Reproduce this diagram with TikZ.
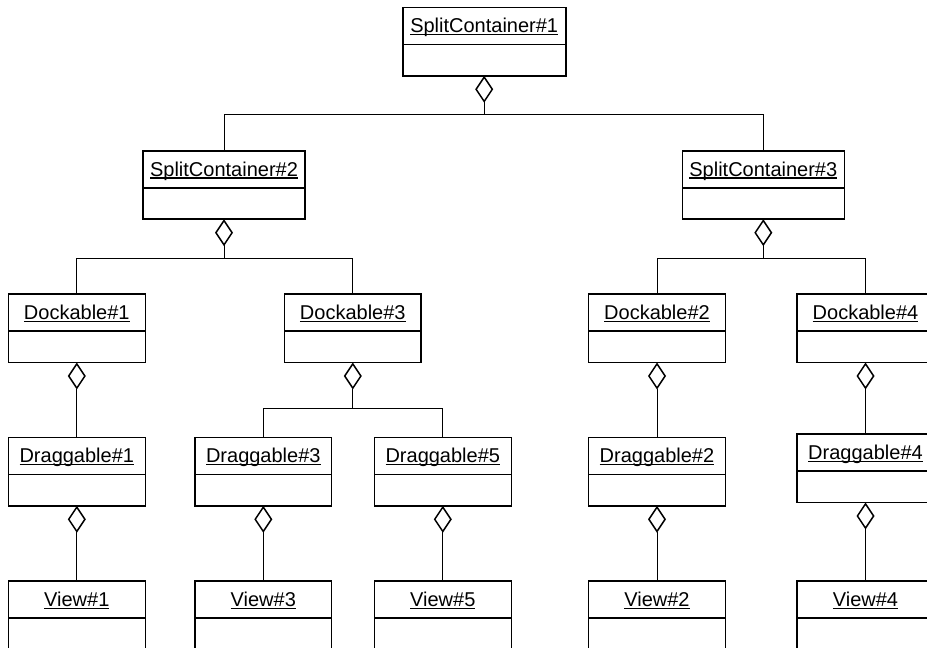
\documentclass[tikz,border=0pt]{standalone}
\usepackage{fontspec}
\setmainfont{Liberation Sans}
\usetikzlibrary{arrows.meta}

% underlined object name, rule drawn just below the baseline
\newcommand{\objname}[1]{\setbox0\hbox{#1}\rlap{\rule[-2.3pt]{\wd0}{1.2pt}}\box0}

% object box: name, centre x, top y, width, label
\newcommand{\objbox}[5]{%
  \node[objframe, minimum width=#4pt, anchor=north] (#1) at (#2,#3) {};
  \draw[objline] ([yshift=-37pt]#1.north west) -- ([yshift=-37pt]#1.north east);
  \node[objlabel] (#1-t) at ([yshift=-25.5pt]#1.north) {\objname{#5}};
}

\tikzset{
  objframe/.style={draw=black, line width=1.6pt, fill=white, minimum height=68.5pt,
                   inner sep=0pt, outer sep=0pt},
  objline/.style={draw=black, line width=1.6pt},
  objlabel/.style={anchor=base, inner sep=0pt, font=\fontsize{20pt}{24pt}\selectfont},
  conn/.style={draw=black, line width=0.9pt},
  agg/.style={conn, arrows={Diamond[open, length=27pt, width=18pt, line width=1.5pt]-}},
}

\begin{document}
\begin{tikzpicture}[x=1pt, y=-1pt]
\useasboundingbox (0,0) rectangle (927,648);
\clip (0,0) rectangle (927,648);

% containers
\objbox{sc1}{484.2}{7.3}{163}{SplitContainer\#1}
\objbox{sc2}{224}{150.7}{162.5}{SplitContainer\#2}
\objbox{sc3}{763.3}{150.7}{162}{SplitContainer\#3}

% dockables
\objbox{dk1}{76.8}{294}{137}{Dockable\#1}
\objbox{dk3}{352.8}{294}{136.5}{Dockable\#3}
\objbox{dk2}{657}{294}{137}{Dockable\#2}
\objbox{dk4}{865.5}{294}{137}{Dockable\#4}

% draggables
\objbox{dr1}{76.8}{437.3}{137}{Draggable\#1}
\objbox{dr3}{263.3}{437.3}{136.7}{Draggable\#3}
\objbox{dr5}{442.8}{437.3}{137}{Draggable\#5}
\objbox{dr2}{657}{437.3}{137}{Draggable\#2}
\objbox{dr4}{865.5}{434}{137}{Draggable\#4}

% views
\objbox{v1}{76.8}{581}{137}{View\#1}
\objbox{v3}{263.3}{581}{136.7}{View\#3}
\objbox{v5}{442.8}{581}{137}{View\#5}
\objbox{v2}{657}{581}{137}{View\#2}
\objbox{v4}{865.5}{581}{137}{View\#4}

% branch points
\coordinate (j1) at (484.2,114.3);
\coordinate (j2) at (224,258.3);
\coordinate (j3) at (763.3,258.3);
\coordinate (j4) at (352.8,408.3);

% aggregations with branches
\draw[agg] (sc1.south) -- (j1);
\draw[conn] (sc2.north) |- (j1) -| (sc3.north);
\draw[agg] (sc2.south) -- (j2);
\draw[conn] (dk1.north) |- (j2) -| (dk3.north);
\draw[agg] (sc3.south) -- (j3);
\draw[conn] (dk2.north) |- (j3) -| (dk4.north);
\draw[agg] (dk3.south) -- (j4);
\draw[conn] (dr3.north) |- (j4) -| (dr5.north);

% single aggregations
\draw[agg] (dk1.south) -- (dr1.north);
\draw[agg] (dk2.south) -- (dr2.north);
\draw[agg] (dk4.south) -- (dr4.north);
\draw[agg] (dr1.south) -- (v1.north);
\draw[agg] (dr3.south) -- (v3.north);
\draw[agg] (dr5.south) -- (v5.north);
\draw[agg] (dr2.south) -- (v2.north);
\draw[agg] (dr4.south) -- (v4.north);
\end{tikzpicture}
\end{document}
